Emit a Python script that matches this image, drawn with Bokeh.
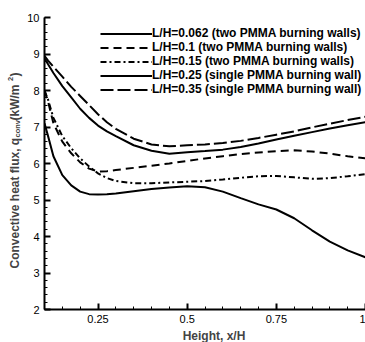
from bokeh.plotting import figure
from bokeh.layouts import row, column
from bokeh.models import (Legend, LegendItem, Label, FixedTicker, SingleIntervalTicker,
                          Range1d, NumeralTickFormatter)
from bokeh.embed import file_html
from bokeh.resources import INLINE
import math

# ---- data ----
x_h = [0.1, 0.11, 0.125, 0.15, 0.175, 0.2, 0.225, 0.25, 0.275, 0.3, 0.35, 0.4,
       0.45, 0.5, 0.55, 0.6, 0.65, 0.7, 0.75, 0.8, 0.85, 0.9, 0.95, 1.0]

q_062 = [7.10, 6.75, 6.20, 5.68, 5.40, 5.23, 5.16, 5.15, 5.16, 5.18, 5.24, 5.30,
         5.34, 5.38, 5.35, 5.23, 5.05, 4.88, 4.74, 4.50, 4.17, 3.86, 3.62, 3.43]
q_010 = [8.00, 7.70, 7.10, 6.60, 6.28, 6.03, 5.86, 5.78, 5.79, 5.82, 5.88, 5.94,
         6.00, 6.07, 6.14, 6.20, 6.26, 6.30, 6.34, 6.36, 6.33, 6.27, 6.20, 6.14]
q_015 = [8.00, 7.75, 7.25, 6.75, 6.42, 6.14, 5.92, 5.73, 5.60, 5.52, 5.46, 5.46,
         5.48, 5.50, 5.52, 5.56, 5.61, 5.65, 5.66, 5.62, 5.58, 5.60, 5.65, 5.71]
q_025 = [8.88, 8.72, 8.48, 8.12, 7.81, 7.50, 7.25, 7.04, 6.88, 6.75, 6.50, 6.35,
         6.27, 6.31, 6.34, 6.38, 6.45, 6.55, 6.66, 6.76, 6.86, 6.96, 7.05, 7.13]
q_035 = [8.95, 8.82, 8.65, 8.38, 8.10, 7.85, 7.60, 7.35, 7.13, 6.95, 6.68, 6.52,
         6.47, 6.50, 6.52, 6.56, 6.62, 6.70, 6.79, 6.88, 6.99, 7.09, 7.19, 7.28]

series_labels = ["L/H=0.062 (two PMMA burning walls)",
                 "L/H=0.1 (two PMMA burning walls)",
                 "L/H=0.15 (two PMMA burning walls)",
                 "L/H=0.25 (single PMMA burning wall)",
                 "L/H=0.35 (single PMMA burning wall)"]
series_dash = ["solid", "8 5", "6 3 2 3", "solid", "13 4"]

x_major = [0.25, 0.5, 0.75, 1.0]
x_minor = [0.1, 0.15, 0.2, 0.25, 0.3, 0.35, 0.4, 0.45, 0.5, 0.55, 0.6, 0.65,
           0.7, 0.75, 0.8, 0.85, 0.9, 0.95, 1.0]

x_title = "Height, x/H"
y_title_parts = ["Convective heat flux, q", "conv", " (kW/m", "2", ")"]

FONT = "Liberation Sans"

# ---- main plot ----
p = figure(width=341, height=327, output_backend="svg", toolbar_location=None,
           x_range=Range1d(0.1, 1.0), y_range=Range1d(2, 10),
           min_border_left=20, min_border_right=0, min_border_top=17,
           min_border_bottom=18)
p.grid.visible = False
p.outline_line_color = None
p.background_fill_color = "white"
p.border_fill_color = "white"

p.xaxis.ticker = FixedTicker(ticks=x_major, minor_ticks=x_minor)
p.xaxis.formatter = NumeralTickFormatter(format="0.[00]")
p.yaxis.ticker = SingleIntervalTicker(interval=1, num_minor_ticks=5)

for ax in (p.xaxis[0], p.yaxis[0]):
    ax.axis_line_width = 2
    ax.axis_line_color = "black"
    ax.major_tick_in = 6
    ax.major_tick_out = 0
    ax.minor_tick_in = 3
    ax.minor_tick_out = 0
    ax.major_tick_line_width = 2
    ax.minor_tick_line_width = 1
    ax.major_tick_line_color = "black"
    ax.minor_tick_line_color = "black"
    ax.major_label_text_font = FONT
    ax.major_label_text_font_size = "11px"
    ax.major_label_text_color = "black"
    ax.major_label_standoff = 5
    ax.axis_label = None

series = [q_062, q_010, q_015, q_025, q_035]
renderers = []
for ys, dash in zip(series, series_dash):
    r = p.line(x_h, ys, line_color="black", line_width=2, line_dash=dash)
    renderers.append(r)

legend = Legend(items=[LegendItem(label=l, renderers=[r]) for l, r in zip(series_labels, renderers)],
                location=(56, 213), glyph_width=52, glyph_height=13, label_height=13,
                spacing=0, label_standoff=0, padding=0, margin=0,
                border_line_color=None, background_fill_alpha=0,
                label_text_font=FONT, label_text_font_style="bold",
                label_text_font_size="12px", label_text_color="black")
p.add_layout(legend)


def strip(w, h):
    f = figure(width=w, height=h, output_backend="svg", toolbar_location=None,
               x_axis_type=None, y_axis_type=None, min_border=0,
               x_range=Range1d(0, 1), y_range=Range1d(0, 1))
    f.grid.visible = False
    f.outline_line_color = None
    f.background_fill_color = "white"
    f.border_fill_color = "white"
    return f


# ---- y axis title strip ----
yfig = strip(24, 342)
y_parts = [(y_title_parts[0], 74, 0, "12px"),
           (y_title_parts[1], 205, 3, "7.5px"),
           (y_title_parts[2], 222, 0, "12px"),
           (y_title_parts[3], 261.5, -4, "7.5px"),
           (y_title_parts[4], 266, 0, "12px")]
for txt, yy, dx, fs in y_parts:
    yfig.add_layout(Label(x=14 + dx, y=yy, x_units="screen", y_units="screen",
                          text=txt, text_font=FONT, text_font_style="bold",
                          text_font_size=fs, angle=math.pi / 2, text_align="left",
                          text_baseline="middle"))

# ---- x axis title strip ----
xfig = strip(341, 15)
xfig.add_layout(Label(x=169.5, y=7, x_units="screen", y_units="screen",
                      text=x_title, text_font=FONT, text_font_style="bold",
                      text_font_size="12px", text_align="center", text_baseline="middle"))

layout = row(yfig, column(p, xfig))

open("out.html", "w").write(file_html(layout, INLINE))
